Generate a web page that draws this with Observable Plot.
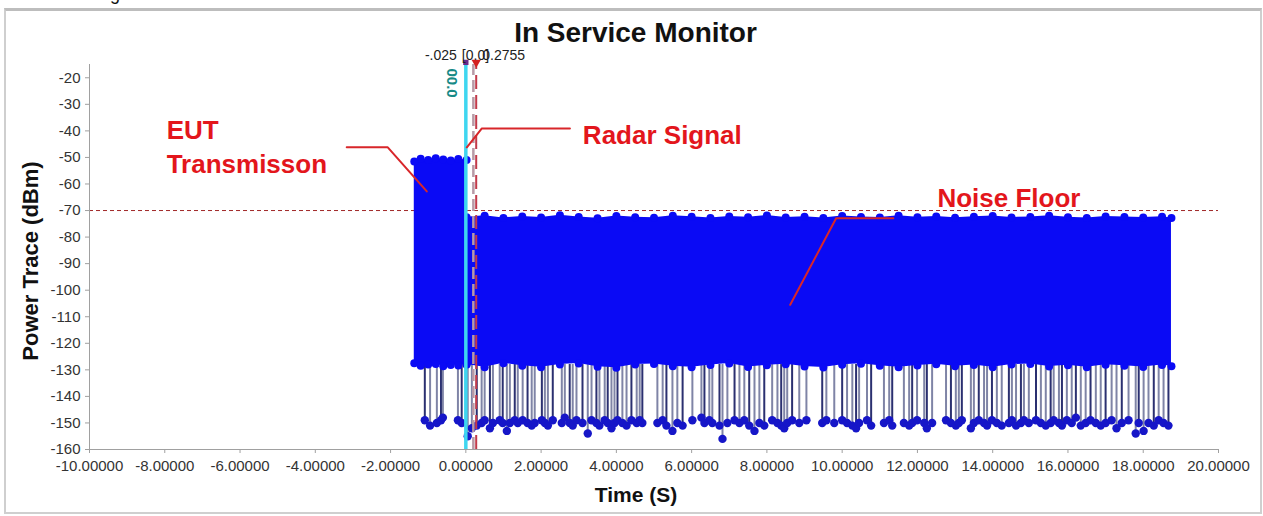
<!DOCTYPE html>
<html>
<head>
<meta charset="utf-8">
<script src="https://cdn.jsdelivr.net/npm/d3@7"></script>
<script src="https://cdn.jsdelivr.net/npm/@observablehq/plot@0.6"></script>
<style>
  html, body { margin: 0; padding: 0; background: #fff; }
  #wrap { position: relative; width: 1263px; height: 516px; overflow: hidden; font-family: "Liberation Sans", Arial, sans-serif; }
  #frame { position: absolute; left: 4px; top: 8px; width: 1254px; height: 501px; border: 2px solid #cfcfcf; border-top: 3px solid #bdbdbd; }
  .lbl { position: absolute; font-weight: bold; color: #111; white-space: nowrap; line-height: 1; }
  #chart { position: absolute; left: 0; top: 0; }
</style>
</head>
<body>
<div id="wrap">
  <div class="lbl" style="left:96px;top:-15px;font-size:18px;font-weight:normal;">ing</div>
  <div id="frame"></div>
  <div id="chart"></div>
  <div class="lbl" style="left:4px;width:1263px;text-align:center;top:19px;font-size:28px;">In Service Monitor</div>
  <div class="lbl" style="left:636px;top:484px;font-size:21px;transform:translateX(-50%);">Time (S)</div>
  <div class="lbl" style="left:31px;top:261px;font-size:22px;transform:translate(-50%,-50%) rotate(-90deg);">Power Trace (dBm)</div>
</div>
<script>
// ---- data ----
const xTicks = [-10, -8, -6, -4, -2, 0, 2, 4, 6, 8, 10, 12, 14, 16, 18, 20];
const yTicks = [-160, -150, -140, -130, -120, -110, -100, -90, -80, -70, -60, -50, -40, -30, -20];
const threshold = -70;

// EUT transmission block (envelope)
const eutTime   = [-1.37, -1.2, -1.0, -0.8, -0.6, -0.4, -0.2, 0.02];
const eutTop    = [-51.5, -50.5, -51, -50.3, -50.8, -51.2, -50.6, -51];
const eutBottom = [-127.5, -128.5, -128, -127.8, -128.6, -128.2, -128.4, -128];

// Noise floor block (envelope)
const noiseTime   = [0.02, 0.5, 1, 1.5, 2, 2.5, 3, 3.5, 4, 4.5, 5, 5.5, 6, 6.5, 7, 7.5, 8, 8.5, 9, 9.5, 10, 10.5, 11, 11.5, 12, 12.5, 13, 13.5, 14, 14.5, 15, 15.5, 16, 16.5, 17, 17.5, 18, 18.5, 18.75];
const noiseTop    = [-72.5, -72, -72.8, -72.2, -72.6, -71.8, -72.4, -72.9, -72.1, -72.5, -72.7, -72, -72.3, -72.8, -72.2, -72.5, -71.9, -72.6, -72.3, -72.8, -72.1, -72.4, -72.6, -72, -72.5, -72.2, -72.7, -72.3, -72.1, -72.6, -72.4, -72, -72.5, -72.8, -72.2, -72.4, -72.6, -72.3, -72.8];
const noiseBottom = [-128, -129, -127.5, -128.5, -129, -128, -127.6, -128.8, -129.2, -128, -127.8, -128.6, -129, -128.2, -127.6, -128.9, -128.3, -127.9, -128.7, -129.1, -128.1, -127.7, -128.5, -129, -128.4, -127.9, -128.6, -128.2, -129, -128, -127.8, -128.7, -128.3, -129, -128.1, -128.5, -128.9, -128.2, -128.6];

// Deep drops below the floor
const spikeTime  = [-1.09, -0.95, -0.77, -0.66, -0.61, -0.21, -0.11, 0.05, 0.16, 0.29, 0.42, 0.50, 0.64, 0.72, 0.90, 0.98, 1.09, 1.17, 1.30, 1.38, 1.51, 1.64, 1.75, 1.83, 2.02, 2.10, 2.18, 2.31, 2.55, 2.63, 2.76, 2.84, 2.94, 3.10, 3.24, 3.34, 3.47, 3.55, 3.69, 3.77, 3.87, 3.95, 4.03, 4.16, 4.27, 4.40, 4.54, 4.62, 4.69, 5.09, 5.23, 5.33, 5.49, 5.62, 5.76, 6.02, 6.26, 6.34, 6.47, 6.55, 6.74, 6.82, 6.95, 7.14, 7.27, 7.40, 7.53, 7.67, 7.80, 7.93, 8.14, 8.28, 8.38, 8.46, 8.54, 8.67, 8.86, 9.05, 9.47, 9.58, 9.79, 10.00, 10.13, 10.27, 10.37, 10.45, 10.66, 10.77, 11.11, 11.25, 11.33, 11.64, 11.78, 11.86, 11.99, 12.18, 12.25, 12.39, 12.76, 12.89, 13.02, 13.10, 13.18, 13.42, 13.50, 13.63, 13.77, 13.85, 13.98, 14.11, 14.24, 14.43, 14.51, 14.62, 14.75, 14.83, 14.96, 15.15, 15.28, 15.41, 15.54, 15.62, 15.76, 15.84, 15.97, 16.10, 16.21, 16.34, 16.47, 16.60, 16.74, 16.87, 17.00, 17.16, 17.29, 17.43, 17.61, 17.80, 17.88, 18.01, 18.14, 18.28, 18.41, 18.54, 18.67];
const spikeLevel = [-149, -151, -150, -149, -148, -149, -150, -155, -152, -151, -150, -149, -152, -150, -149, -150, -153, -150, -149, -150, -149, -150, -151, -150, -149, -150, -151, -149, -150, -148, -150, -151, -149, -150, -154, -149, -150, -151, -149, -150, -152, -150, -149, -150, -151, -149, -150, -149, -150, -150, -149, -151, -153, -150, -151, -149, -148, -150, -149, -150, -151, -156, -150, -149, -150, -149, -151, -153, -150, -151, -149, -150, -151, -152, -150, -149, -150, -149, -150, -149, -150, -149, -150, -151, -152, -150, -149, -151, -150, -149, -151, -150, -151, -150, -149, -150, -152, -150, -149, -150, -151, -150, -149, -152, -150, -149, -150, -151, -149, -150, -151, -150, -149, -151, -150, -149, -150, -149, -150, -151, -150, -149, -150, -151, -149, -150, -148, -151, -150, -149, -150, -151, -150, -149, -152, -150, -149, -154, -150, -153, -150, -151, -149, -150, -151];
const floorBase = -128;

// markers
const markerCyan = 0;
const markerDash = 0.2755;
const markerMid = 0.2;

// annotations (data coordinates)
const annoText = ["EUT", "Transmisson", "Radar Signal", "Noise Floor"];
const annoTime = [-7.95, -7.95, 3.11, 12.53];
const annoLevel = [-43.2, -56.0, -45.1, -68.5];
const leaderEUT   = {t: [-3.165, -2.074, -1.037], v: [-46.2, -46.2, -62.8]};
const leaderRadar = {t: [2.766, 0.426, 0.027], v: [-39.1, -39.1, -46.2]};
const leaderNoise = {t: [11.36, 9.84, 8.62], v: [-72.9, -72.9, -105.5]};

// ---- build tables ----
const eut = eutTime.map((t, i) => ({t, top: eutTop[i], bot: eutBottom[i]}));
const noise = noiseTime.map((t, i) => ({t, top: noiseTop[i], bot: noiseBottom[i]}));
const spikes = spikeTime.map((t, i) => ({t, v: spikeLevel[i], i}));
const edges = [...eut, ...noise].flatMap(d => [{t: d.t, v: d.top}, {t: d.t, v: d.bot}]);
const annos = annoText.map((s, i) => ({s, t: annoTime[i], v: annoLevel[i]}));
const leaders = [leaderEUT, leaderRadar, leaderNoise].flatMap((L, k) => L.t.map((t, i) => ({k, t, v: L.v[i]})));

const BLUE = "#0a0af5";
const DOT = "#1616c8";
const RED = "#e3161c";

const chart = Plot.plot({
  width: 1263, height: 516,
  marginLeft: 89, marginRight: 45, marginTop: 64, marginBottom: 67,
  x: {domain: [-10, 20]},
  y: {domain: [-160, -15]},
  style: {fontFamily: "'Liberation Sans', Arial, sans-serif", fontSize: "15px", color: "#333", background: "transparent", overflow: "visible"},
  marks: [
    Plot.ruleY([threshold], {stroke: "#a02828", strokeDasharray: "4,3", strokeWidth: 1}),
    // spike stems
    Plot.ruleX(spikes, {x: "t", y1: floorBase, y2: "v", stroke: d => d.i % 3 === 0 ? "#2b3070" : "#7f84a6", strokeWidth: 2}),
    Plot.dot(spikes, {x: "t", y: "v", r: 4.2, fill: DOT}),
    // blocks
    Plot.areaY(eut, {x: "t", y1: "bot", y2: "top", fill: BLUE}),
    Plot.areaY(noise, {x: "t", y1: "bot", y2: "top", fill: BLUE}),
    Plot.dot(edges, {x: "t", y: "v", r: 4, fill: BLUE}),
    // markers
    Plot.ruleX([markerMid], {y1: -160, y2: -15, stroke: "#b89aa6", strokeWidth: 2.5, strokeDasharray: "12,5"}),
    Plot.ruleX([markerDash], {y1: -160, y2: -15, stroke: "#c23a4a", strokeWidth: 2, strokeDasharray: "14,6"}),
    Plot.ruleX([markerCyan], {y1: -160, y2: -15, stroke: "#3ed6f0", strokeWidth: 3.5}),
    Plot.dot([markerCyan], {x: d => d, y: -14.2, symbol: "square", r: 3, fill: "#6a2a8a"}),
    Plot.dot([markerDash], {x: d => d, y: -14.2, symbol: "triangle", rotate: 180, r: 3.5, fill: "#d42020"}),
    Plot.text(["-.025"], {x: markerCyan, y: -13.2, text: d => d, textAnchor: "end", lineAnchor: "bottom", dx: -9, fill: "#222", fontSize: 14}),
    Plot.text(["[0.0]"], {x: markerCyan, y: -13.2, text: d => d, textAnchor: "start", lineAnchor: "bottom", dx: -4, fill: "#222", fontSize: 14}),
    Plot.text(["0.2755"], {x: markerDash, y: -13.2, text: d => d, textAnchor: "start", lineAnchor: "bottom", dx: 6, fill: "#222", fontSize: 14}),
    Plot.text(["00.0"], {x: -0.37, y: -22, text: d => d, rotate: 90, fill: "#178a86", fontWeight: "bold", fontSize: 15}),
    // annotations
    Plot.line(leaders, {x: "t", y: "v", z: "k", stroke: "#d8262a", strokeWidth: 2}),
    Plot.text(annos, {x: "t", y: "v", text: "s", textAnchor: "start", lineAnchor: "bottom", fill: RED, fontWeight: "bold", fontSize: 26}),
    // axes
    Plot.ruleY([-160], {stroke: "#a0a0a0"}),
    Plot.ruleX([-10], {stroke: "#a0a0a0"}),
    Plot.axisX({ticks: xTicks, tickFormat: d => d.toFixed(5), tickSize: 4, tickPadding: 7, stroke: "#a0a0a0", fill: "#333", label: null}),
    Plot.axisY({ticks: yTicks, tickFormat: d => String(d), tickSize: 4, tickPadding: 5, stroke: "#a0a0a0", fill: "#333", label: null})
  ]
});
document.getElementById("chart").appendChild(chart);
</script>
</body>
</html>
